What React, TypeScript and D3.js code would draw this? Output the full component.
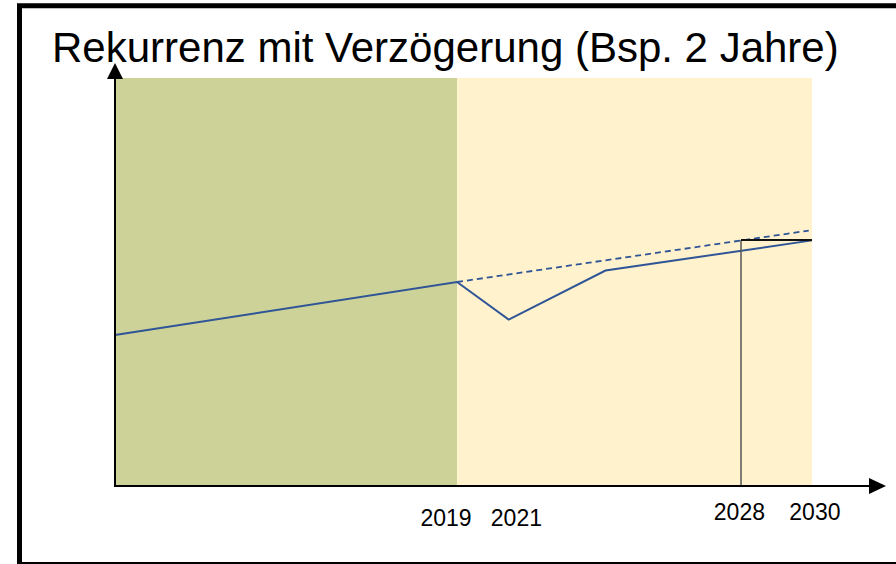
import React from "react";
import * as d3 from "d3";

// ---- data ----
const title = "Rekurrenz mit Verzögerung (Bsp. 2 Jahre)";
const domainYears = [2008.4, 2030];
const phaseStarts = [2008.4, 2019];
const phaseEnds = [2019, 2030];
const phaseColors = ["#CDD398", "#FFF2CC"];
const actualYears = [2008.4, 2019, 2020.6, 2023.6, 2030];
const actualValues = [37.0, 50.0, 40.8, 52.8, 60.2];
const trendYears = [2019, 2029.9];
const trendValues = [50.0, 62.6];
const markerYear = 2027.8;
const markerValue = 60.3;
const tickLabels = ["2019", "2021", "2028", "2030"];
const tickLabelAt = [2018.66, 2020.84, 2027.75, 2030.09];
const tickLabelRow = [0, 0, 1, 1];

const W = 896;
const H = 564;

export default function App() {
  const x = d3.scaleLinear().domain(domainYears).range([115, 812]);
  const y = d3.scaleLinear().domain([0, 100]).range([486, 78]);

  const line = d3
    .line<[number, number]>()
    .x((d) => x(d[0]))
    .y((d) => y(d[1]));

  const actual = actualYears.map((yr, i) => [yr, actualValues[i]] as [number, number]);
  const trend = trendYears.map((yr, i) => [yr, trendValues[i]] as [number, number]);

  const axisX = x(domainYears[0]);
  const axisY = y(0);

  return (
    <svg
      width={W}
      height={H}
      style={{ position: "absolute", left: 0, top: 0, display: "block" }}
      fontFamily="Liberation Sans, Arial, sans-serif"
    >
      <rect x={0} y={0} width={W} height={H} fill="#fff" />
      {/* frame (right side lies outside the picture) */}
      <path d={`M${W + 10},5.8 L19.5,5.8 L19.5,564.5 L${W + 10},564.5`} fill="none" stroke="#000" strokeWidth={5} />

      {/* phases */}
      {phaseStarts.map((s, i) => (
        <rect
          key={i}
          x={x(s)}
          y={y(100)}
          width={x(phaseEnds[i]) - x(s)}
          height={y(0) - y(100)}
          fill={phaseColors[i]}
        />
      ))}

      {/* trend (dashed) */}
      <path d={line(trend) || ""} fill="none" stroke="#2F5597" strokeWidth={1.8} strokeDasharray="6,4" />
      {/* actual */}
      <path d={line(actual) || ""} fill="none" stroke="#2F5597" strokeWidth={2} />

      {/* marker bracket */}
      <line x1={x(markerYear)} x2={x(markerYear)} y1={axisY} y2={y(markerValue)} stroke="#555" strokeWidth={1.5} />
      <line x1={x(markerYear)} x2={x(domainYears[1])} y1={y(markerValue)} y2={y(markerValue)} stroke="#111" strokeWidth={1.8} />

      {/* axes */}
      <line x1={axisX} x2={axisX} y1={axisY + 1} y2={76} stroke="#000" strokeWidth={2} />
      <path d={`M${axisX},63 L${axisX - 8},79 L${axisX + 8},79 Z`} fill="#000" />
      <line x1={axisX - 1} x2={871} y1={axisY} y2={axisY} stroke="#000" strokeWidth={2.2} />
      <path d={`M886,${axisY} L869,${axisY - 8} L869,${axisY + 8} Z`} fill="#000" />

      {/* tick labels */}
      {tickLabels.map((t, i) => (
        <text
          key={t}
          x={x(tickLabelAt[i])}
          y={tickLabelRow[i] === 0 ? 526 : 520}
          textAnchor="middle"
          fontSize={23}
          fill="#000"
        >
          {t}
        </text>
      ))}

      {/* title */}
      <text x={52} y={62} fontSize={42} fill="#000">
        {title}
      </text>
    </svg>
  );
}
